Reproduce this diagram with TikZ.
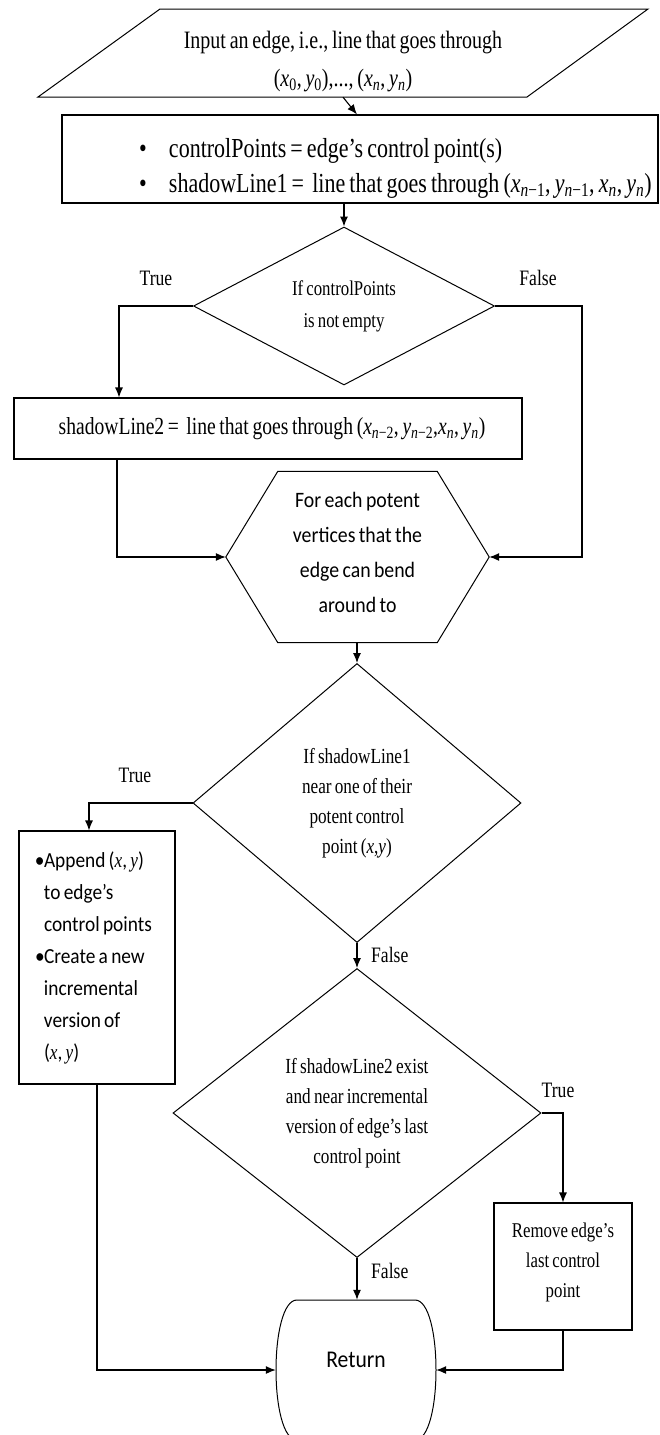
\documentclass[tikz,border=0pt]{standalone}
\usepackage{fontspec}
\setmainfont{Liberation Serif}[FakeStretch=0.8,WordSpace=0.75]
\newfontfamily\sansfnt{Carlito}[FakeStretch=0.9,WordSpace=0.75]
\usetikzlibrary{arrows.meta,shapes.geometric}
\newcommand{\crd}[2]{\textit{#1}\textsubscript{#2}}
\newcommand{\nn}{\textit{n}}
\newcommand{\vxy}{(\textrm{\textit{x}}, \textrm{\textit{y}})}
\newcommand{\itm}[1]{\hspace*{77pt}\makebox[30pt][l]{\textbullet}\mbox{#1}}
\tikzset{
  flowbox/.style={draw, rectangle, line width=1.1pt, inner sep=0pt, align=center},
  decision/.style={draw, diamond, aspect=1.3, line width=1pt, inner sep=0pt, align=center},
  lbl/.style={font=\fontsize{22}{26}\selectfont, inner sep=0pt},
  arr/.style={line width=1.1pt, -{Latex[length=10pt,width=8pt]}},
}
\begin{document}
\begin{tikzpicture}[x=1pt,y=-1pt]
    \useasboundingbox (0,0) rectangle (659,1435);
    % input
    \node[inner sep=0pt, minimum width=610pt, minimum height=88pt, align=center, font=\fontsize{25}{38}\selectfont] (input) at (343,53) {\rule{0pt}{35pt}Input an edge, i.e., line that goes through\\(\crd{x}{0}, \crd{y}{0}),..., (\crd{x}{\nn}, \crd{y}{\nn})};
    \draw[line width=1pt] (160,9) -- (648,9) -- (527,97) -- (38,97) -- cycle;
    \node[flowbox, text width=596pt, minimum height=88pt, align=flush left, font=\fontsize{27.5}{35}\selectfont] (init) at (360,159) {\spaceskip=0pt\xspaceskip=0pt\rule{0pt}{38pt}\itm{controlPoints = edge’s control point(s)}\\\itm{shadowLine1 = \ line that goes through (\crd{x}{\nn−1}, \crd{y}{\nn−1}, \crd{x}{\nn}, \crd{y}{\nn})}};
    % first test
    \node[decision, minimum width=301pt, minimum height=158pt, font=\fontsize{21}{32}\selectfont] (cond1) at (344,306) {If controlPoints\\is not empty};
    \node[flowbox, minimum width=508pt, minimum height=61pt, font=\fontsize{24.5}{25}\selectfont] (sl2) at (268,428.5) {\hspace{8pt}shadowLine2 = \ line that goes through (\crd{x}{\nn−2}, \crd{y}{\nn−2},\crd{x}{\nn}, \crd{y}{\nn})};
    % loop
    \node[minimum width=263pt, minimum height=171pt, inner sep=0pt, align=center, font=\sansfnt\fontsize{22}{35}\selectfont] (hex) at (357.5,557) {For each potent\\vertices that the\\edge can bend\\around to\rule[-9pt]{0pt}{9pt}};
    \draw[line width=1pt] ([xshift=52pt]hex.north west) -- ([xshift=-52pt]hex.north east) -- (hex.east) -- ([xshift=-52pt]hex.south east) -- ([xshift=52pt]hex.south west) -- (hex.west) -- cycle;
    \node[decision, minimum width=328pt, minimum height=279pt, font=\fontsize{21.5}{30}\selectfont] (cond2) at (357,803) {If shadowLine1\\near one of their\\potent control\\point (\textit{x},\textit{y})};
    \node[flowbox, text width=156pt, minimum height=253pt, align=flush left, font=\sansfnt\fontsize{21.5}{32}\selectfont] (append) at (97,957.5) {\spaceskip=0pt\xspaceskip=0pt\hspace*{16pt}\begin{tabular}{@{}l@{}l@{}}\makebox[9pt][l]{\textbullet} & Append \vxy\\ & to edge’s\\ & control points\\ \makebox[9pt][l]{\textbullet} & Create a new\\ & incremental\\ & version of\\ & \vxy\end{tabular}};
    \node[decision, minimum width=368pt, minimum height=289pt, font=\fontsize{21.5}{30}\selectfont] (cond3) at (357,1113) {If shadowLine2 exist\\and near incremental\\version of edge’s last\\control point};
    \node[flowbox, minimum width=138pt, minimum height=127pt, font=\fontsize{21}{30}\selectfont] (remove) at (563,1266.5) {Remove edge’s\\last control\\point\rule[-12pt]{0pt}{12pt}};
    % end
    \node[inner sep=0pt, minimum width=160pt, minimum height=140pt, font=\sansfnt\fontsize{24}{30}\selectfont] (ret) at (356,1370) {\raisebox{20pt}{Return}};
    \draw[line width=1pt] (297,1300) -- (415,1300) .. controls (429,1300) and (436,1335) .. (436,1370) .. controls (436,1405) and (429,1440) .. (415,1440) -- (297,1440) .. controls (283,1440) and (276,1405) .. (276,1370) .. controls (276,1335) and (283,1300) .. (297,1300) -- cycle;
    % labels
    \node[lbl] (t1) at (156,278) {True};
    \node[lbl] (f1) at (538,278) {False};
    \node[lbl] (t2) at (135,775) {True};
    \node[lbl, anchor=west] (f2) at (371,955) {False};
    \node[lbl] (t3) at (558,1090) {True};
    \node[lbl, anchor=west] (f3) at (371,1271) {False};
    % arrows
    \draw[arr] (input.south) -- ([xshift=-3pt]init.north);
    \draw[arr] (init.south -| cond1.north) -- (cond1.north);
    \draw[arr] (cond1.west) -| ([xshift=-149pt]sl2.north);
    \draw[arr] (cond1.east) -- ++(87,0) |- (hex.east);
    \draw[arr] ([xshift=-151pt]sl2.south) |- (hex.west);
    \draw[arr] (hex.south -| cond2.north) -- (cond2.north);
    \draw[arr] (cond2.west) -| ([xshift=-8pt]append.north);
    \draw[arr] (cond2.south) -- (cond3.north);
    \draw[arr] (cond3.east) -| (remove.north);
    \draw[arr] (cond3.south) -- (cond3.south |- ret.north);
    \draw[arr] (append.south) |- (ret.west);
    \draw[arr] (remove.south) |- (ret.east);
\end{tikzpicture}
\end{document}
